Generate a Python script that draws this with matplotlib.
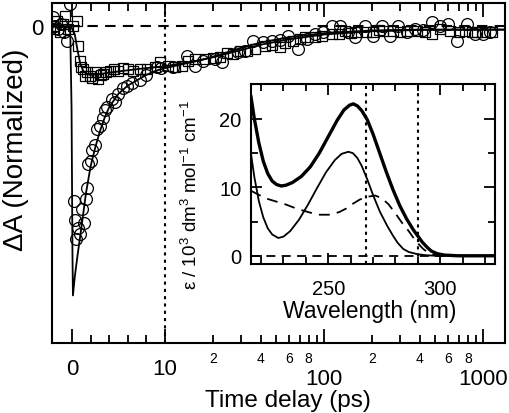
import numpy as np
import matplotlib
matplotlib.use('Agg')
import matplotlib.pyplot as plt
from matplotlib.ticker import FixedLocator, FixedFormatter, NullFormatter

plt.rcParams['font.family'] = ['Liberation Sans', 'DejaVu Sans']
plt.rcParams['mathtext.fontset'] = 'custom'
plt.rcParams['mathtext.rm'] = 'Liberation Sans'
plt.rcParams['mathtext.it'] = 'Liberation Sans:italic'

# transient data (time in ps, normalized dA)
circle_t = [-2.05, -1.8, -1.5, -1.2, -0.9, -0.55, -0.2,
            0.22, 0.32, 0.45, 0.65, 0.86, 1.08, 1.29, 1.5, 1.62, 1.72, 2.0, 2.15, 2.5, 2.7,
            3.0, 3.3, 3.5, 3.8, 4.3, 4.6, 4.9, 5.5, 5.9, 6.5, 7.3, 8.0, 9.1, 9.6,
            11.2, 13.7, 15.4, 17.3, 20.6, 22.8, 28.8, 31.8, 35.8, 41.4, 47.1, 53, 59.4, 68.6,
            78, 88, 98, 112, 126, 142, 156, 181, 204, 232, 261, 293, 333, 372, 420, 477,
            536, 600, 686, 792, 891, 1000, 1110]
circle_y = [0.035, 0.0, -0.01, 0.01, -0.02, -0.054, 0.084,
            -0.65, -0.72, -0.79, -0.75, -0.77, -0.68, -0.73, -0.64, -0.60, -0.51, -0.50, -0.46, -0.44, -0.38,
            -0.37, -0.34, -0.31, -0.30, -0.27, -0.28, -0.25, -0.23, -0.22, -0.21, -0.20, -0.18, -0.15, -0.155,
            -0.15, -0.11, -0.147, -0.128, -0.12, -0.132, -0.095, -0.091, -0.054, -0.058, -0.054, -0.05, -0.035, -0.084,
            -0.046, -0.03, -0.02, 0.0, 0.0, -0.02, -0.039, 0.0, -0.035, 0.0, -0.035, 0.0, -0.02, -0.009, -0.015, 0.017,
            0.0, 0.009, -0.054, 0.009, -0.028, -0.028, -0.02]

square_t = [-2.05, -1.9, -1.6, -1.3, -1.0, -0.75, -0.4, 0.1, 0.5,
            0.65, 0.86, 1.0, 1.18, 1.4, 1.6, 1.94, 2.2, 2.47, 2.8, 3.1, 3.33, 3.7, 4.1, 4.5,
            4.95, 5.5, 6.0, 6.56, 7.3, 8.1, 8.9, 9.46,
            10.45, 11.5, 12.8, 14, 15.4, 17.8, 20, 22.2, 24.5, 26.8, 29.5, 32.8, 36.8, 42.5,
            47, 52.9, 57, 63.8, 70, 75.9, 87.8, 97.4, 112, 124, 136, 148, 162, 182, 204, 220,
            235, 272, 300, 333, 385, 430, 477, 536, 620, 700, 771, 850, 918, 1030, 1140]
square_y = [0.0, -0.01, 0.02, -0.02, 0.01, 0.04, -0.01, 0.0, 0.02,
            -0.072, -0.128, -0.15, -0.158, -0.184, -0.17, -0.184, -0.19, -0.169, -0.195, -0.18, -0.177, -0.17, -0.165, -0.16,
            -0.165, -0.155, -0.158, -0.165, -0.158, -0.158, -0.152, -0.133,
            -0.147, -0.15, -0.147, -0.13, -0.121, -0.121, -0.118, -0.113, -0.1, -0.102, -0.09, -0.091, -0.084, -0.072,
            -0.07, -0.076, -0.06, -0.054, -0.045, -0.039, -0.039, -0.035, -0.028, -0.03, -0.017, -0.025, -0.02, -0.02, -0.02, -0.015,
            -0.017, -0.017, -0.02, -0.017, -0.017, -0.02, -0.028, -0.009, -0.017, -0.02, -0.017, -0.02, -0.02, -0.02, -0.02]

# fitted curves
fit_circle_t = [-2.2, -0.2, -0.05, 0.05, 0.1, 0.3, 0.6, 1.0, 1.5, 2.0, 2.5, 3.0, 3.5, 4.0, 5.0, 6.0, 7.0,
                8.0, 9.0, 10, 13, 17, 22, 30, 40, 60, 100, 200, 400, 1000, 1400]
fit_circle_y = [0, 0, -0.3, -0.85, -1.0, -0.93, -0.85, -0.75, -0.62, -0.52, -0.45, -0.39, -0.34, -0.30, -0.25,
                -0.22, -0.20, -0.18, -0.165, -0.155, -0.14, -0.125, -0.105, -0.08, -0.06, -0.04, -0.025,
                -0.015, -0.012, -0.012, -0.012]
fit_square_t = [-2.2, -0.1, 0.3, 0.6, 0.9, 1.2, 1.6, 2.0, 3, 4, 6, 8, 10, 15, 20, 30, 40, 60, 100, 200,
                 400, 1000, 1400]
fit_square_y = [0, 0, -0.03, -0.09, -0.14, -0.165, -0.178, -0.18, -0.177, -0.172, -0.163, -0.155, -0.148,
                -0.13, -0.115, -0.088, -0.068, -0.048, -0.03, -0.018, -0.013, -0.012, -0.012]

# inset spectra (wavelength nm, epsilon / 10^3)
wl_thick = [215.5, 217, 219, 221, 223, 225, 227, 229, 231, 234, 238, 242, 246, 250, 254, 257, 259.5,
            261.2, 263, 265, 267.4, 270, 273, 276, 279, 282, 285, 288, 290, 292, 294, 296, 298.7,
            302, 308, 315, 324.5]
eps_thick = [23.2, 20.0, 16.5, 13.8, 12.0, 10.9, 10.4, 10.2, 10.3, 10.7, 11.6, 13.0, 15.0, 17.4, 19.8, 21.3,
             22.0, 22.2, 21.9, 21.2, 19.9, 17.8, 15.0, 12.2, 9.6, 7.3, 5.4, 3.8, 2.9, 2.0, 1.3, 0.7, 0.3,
             0.1, 0.0, 0.0, 0.0]
wl_thin = [215.5, 217, 219, 221, 223, 225, 227.7, 230, 233, 237, 241, 245, 249, 253, 256, 259, 261,
           263, 265, 267.4, 270, 273, 276.3, 279, 281, 283.5, 286, 289.7, 293, 298, 305, 324.5]
eps_thin = [14.9, 11.5, 8.0, 5.6, 4.0, 3.1, 2.6, 2.8, 3.6, 5.3, 7.5, 9.9, 12.2, 14.0, 14.9, 15.2, 15.0,
            14.3, 13.1, 11.2, 8.9, 6.5, 4.4, 2.9, 1.9, 1.0, 0.55, 0.25, 0.1, 0.0, 0.0, 0.0]
wl_dash = [215.5, 219, 223, 227, 231, 235, 238.8, 242, 246, 251, 255, 258, 261, 264, 267, 271, 274,
           277, 280, 283, 285.3, 289, 292.4, 295, 298.7, 305, 324.5]
eps_dash = [9.5, 8.9, 8.3, 7.9, 7.5, 7.0, 6.6, 6.3, 6.0, 6.0, 6.4, 6.9, 7.6, 8.2, 8.6, 8.8, 8.4,
            7.5, 6.2, 4.8, 3.9, 2.2, 1.0, 0.4, 0.0, 0.0, 0.0]
wl_marks = [267, 290]

K = 159 / 9.3


def fwd(x):
    x = np.asarray(x, dtype=float)
    return np.where(x <= 10, x, 10 + K * np.log10(np.maximum(x, 1e-9) / 10))


def inv(y):
    y = np.asarray(y, dtype=float)
    return np.where(y <= 10, y, 10 * 10 ** ((np.minimum(y, 200) - 10) / K))


fig = plt.figure(figsize=(5.1, 4.14), dpi=100)
ax = fig.add_axes([52 / 510, 70 / 414, 453 / 510, 340 / 414])
ax.set_xscale('function', functions=(fwd, inv))

ax.axhline(0, color='black', lw=1.5, ls=(0, (5, 3.5)), zorder=1)
ax.axvline(10, color='black', lw=1.5, ls=(0, (1.5, 2)), zorder=1)
ax.plot(circle_t, circle_y, 'o', ms=8.5, mfc='none', mec='black', mew=0.9)
ax.plot(square_t, square_y, 's', ms=7.5, mfc='none', mec='black', mew=0.9)
ax.plot(fit_circle_t, fit_circle_y, color='black', lw=1.3)
ax.plot(fit_square_t, fit_square_y, color='black', lw=1.3)

ax.set_xlim(-2.15, 1370)
ax.set_ylim(-1.177, 0.087)

major = [0, 10, 100, 1000]
major_lbl = ['0', '10', '100', '1000']
major_base = [-0.091, -0.091, -0.121, -0.121]
minor = [2, 4, 6, 8] + [20, 30, 40, 50, 60, 70, 80, 90] + [200, 300, 400, 500, 600, 700, 800, 900]
minor_lbl = ['', '', '', ''] + ['2', '', '4', '', '6', '', '8', ''] * 2
ax.xaxis.set_major_locator(FixedLocator(major))
ax.xaxis.set_major_formatter(NullFormatter())
ax.xaxis.set_minor_locator(FixedLocator(minor))
ax.xaxis.set_minor_formatter(FixedFormatter(minor_lbl))
for xv, lbl, yb in zip(major, major_lbl, major_base):
    ax.text(xv, yb, lbl, transform=ax.get_xaxis_transform(), ha='center', va='baseline', fontsize=16)
ax.yaxis.set_major_locator(FixedLocator([0]))
ax.yaxis.set_major_formatter(FixedFormatter(['0']))
ax.yaxis.set_minor_locator(FixedLocator([]))
ax.tick_params(axis='x', which='major', direction='in', top=True, length=10, width=1.3)
ax.tick_params(axis='x', which='minor', direction='in', top=True, length=5.5, width=1.3, labelsize=10, pad=6)
ax.tick_params(axis='y', which='major', direction='in', length=6, width=1.3, labelsize=16, pad=6)
for s in ax.spines.values():
    s.set_linewidth(1.5)

ax.set_xlabel('Time delay (ps)', fontsize=17.5)
ax.xaxis.label.set_va('baseline')
ax.xaxis.set_label_coords(0.521, -0.185)
ax.set_ylabel('ΔA (Normalized)', fontsize=20)
ax.yaxis.label.set_va('center')
ax.yaxis.set_label_coords(-0.08, 0.57)

# inset
ins = fig.add_axes([251 / 510, 149 / 414, 244 / 510, 180 / 414])
ins.axhline(0, color='black', lw=1.3, ls=(0, (5, 3.5)), zorder=1)
for w in wl_marks:
    ins.axvline(w, color='black', lw=1.5, ls=(0, (1.5, 2)), zorder=1)
ins.plot(wl_thick, eps_thick, color='black', lw=2.4)
ins.plot(wl_thin, eps_thin, color='black', lw=1.3)
ins.plot(wl_dash, eps_dash, color='black', lw=1.3, ls=(0, (6, 4)))
ins.set_xlim(215.5, 324.5)
ins.set_ylim(-1.2, 25.1)
ins.xaxis.set_major_locator(FixedLocator([250, 300]))
ins.xaxis.set_minor_locator(FixedLocator([220, 230, 240, 260, 270, 280, 290, 310, 320]))
ins.yaxis.set_major_locator(FixedLocator([0, 10, 20]))
ins.yaxis.set_minor_locator(FixedLocator([5, 15]))
ins.tick_params(which='major', direction='in', top=True, right=True, length=8, width=1.3, labelsize=14.5)
ins.tick_params(axis='x', which='major', pad=11)
ins.tick_params(axis='y', which='major', pad=7)
ins.tick_params(which='minor', direction='in', top=True, right=True, length=5, width=1.3)
for s in ins.spines.values():
    s.set_linewidth(1.5)
ins.set_xlabel('Wavelength (nm)', fontsize=16.5)
ins.xaxis.label.set_va('baseline')
ins.xaxis.set_label_coords(0.488, -0.294)
ins.set_ylabel('ε / 10$^3$ dm$^3$ mol$^{-1}$ cm$^{-1}$', fontsize=13.5)
ins.yaxis.label.set_va('center')
ins.yaxis.set_label_coords(-0.245, 0.39)

fig.savefig('out.png', dpi=100)
